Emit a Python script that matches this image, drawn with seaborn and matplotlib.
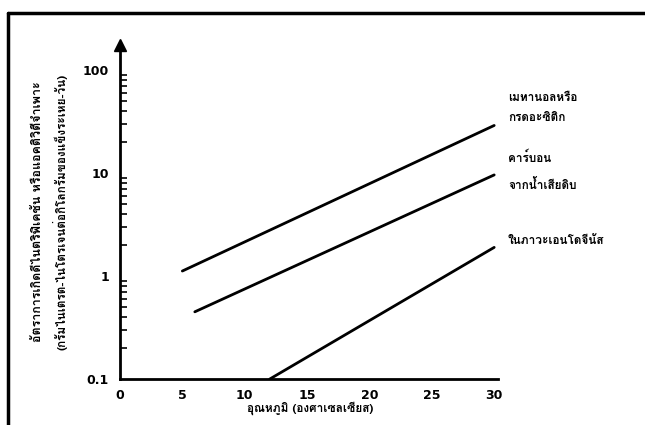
import matplotlib
matplotlib.use("Agg")
import matplotlib.pyplot as plt
from matplotlib import font_manager
from matplotlib.ft2font import FT2Font
from matplotlib.lines import Line2D
import pandas as pd
import seaborn as sns

# Data (end points of each straight line on the log scale)
temp_methanol = [5.0, 30]
rate_methanol = [1.12, 29]
temp_wastewater = [6, 30]
rate_wastewater = [0.45, 9.6]
temp_endogenous = [12, 30]
rate_endogenous = [0.1, 1.9]

series_names = ["methanol", "wastewater", "endogenous"]
x_ticks = [0, 5, 10, 15, 20, 25, 30]
y_ticks = [0.1, 1, 10, 100]
y_tick_labels = ["0.1", "1", "10", "100"]

line_labels = ["เมทานอลหรือ\nกรดอะซิติก", "คาร์บอน\nจากน้ำเสียดิบ", "ในภาวะเอนโดจีนัส"]
y_label_1 = "อัตราการเกิดดีไนตริฟิเคชัน หรือแอคติวิตีจำเพาะ"
y_label_2 = "(กรัมไนเตรต-ไนโตรเจนต่อกิโลกรัมของแข็งระเหย-วัน)"
x_label = "อุณหภูมิ (องศาเซลเซียส)"

df = pd.DataFrame({
    "temp": temp_methanol + temp_wastewater + temp_endogenous,
    "rate": rate_methanol + rate_wastewater + rate_endogenous,
    "series": [series_names[0]] * 2 + [series_names[1]] * 2 + [series_names[2]] * 2,
})

# find an installed font with Thai glyphs
thai_family = None
for f in font_manager.fontManager.ttflist:
    try:
        if ord("ก") in FT2Font(f.fname).get_charmap():
            thai_family = f.name
            break
    except Exception:
        pass

sns.set_style("white")
families = ([thai_family] if thai_family else []) + ["DejaVu Sans"]
plt.rcParams["font.family"] = families
plt.rcParams["text.color"] = "black"
plt.rcParams["xtick.color"] = "black"
plt.rcParams["ytick.color"] = "black"

fig = plt.figure(figsize=(6.45, 4.25), dpi=100)
ax = fig.add_axes([0.186, 0.108, 0.586, 0.786])

sns.lineplot(data=df, x="temp", y="rate", hue="series", palette=["black"] * 3,
             linewidth=2, legend=False, ax=ax)

ax.set_yscale("log")
ax.set_xlim(0, 30.3)
ax.set_ylim(0.1, 175)
ax.set_xticks(x_ticks)
ax.set_xticklabels([str(t) for t in x_ticks], fontsize=9, fontweight="bold", family="DejaVu Sans")
ax.set_yticks(y_ticks)
ax.set_yticklabels(y_tick_labels, fontsize=9, fontweight="bold", family="DejaVu Sans")
ax.tick_params(axis="x", which="major", direction="inout", length=10, width=1.5, pad=2)
ax.tick_params(axis="y", which="major", direction="inout", length=10, width=1.5, pad=3)
ax.tick_params(axis="y", which="minor", direction="in", length=5, width=1.2, left=True)
ax.set_xlabel("")
ax.set_ylabel("")

for side in ["top", "right"]:
    ax.spines[side].set_visible(False)
for side in ["left", "bottom"]:
    ax.spines[side].set_linewidth(2)
    ax.spines[side].set_color("black")

# arrow head on top of the y axis
ax.plot(0, 1, marker="^", color="black", markersize=8, transform=ax.transAxes, clip_on=False)

# labels at the right end of each line
label_y = [(508, 108), (508, 171), (508, 240)]
for text, (px, py) in zip(line_labels, label_y):
    fig.text(px / 645, 1 - py / 425, text, fontsize=8.5, fontweight="bold",
             ha="left", va="center", linespacing=2.3)

fig.text(38 / 645, 1 - 212 / 425, y_label_1, rotation=90, fontsize=9,
         fontweight="bold", ha="center", va="center")
fig.text(60 / 645, 1 - 212 / 425, y_label_2, rotation=90, fontsize=8.5,
         fontweight="bold", ha="center", va="center")
fig.text(310 / 645, 1 - 408 / 425, x_label, fontsize=8.5, fontweight="bold",
         ha="center", va="center")

# scanned page frame (left and top edges)
fig.add_artist(Line2D([8 / 645, 8 / 645], [0, 1 - 13 / 425], color="black",
                      linewidth=2.5, transform=fig.transFigure))
fig.add_artist(Line2D([8 / 645, 1], [1 - 13 / 425, 1 - 13 / 425], color="black",
                      linewidth=2.5, transform=fig.transFigure))

fig.savefig("out.png", dpi=100)
